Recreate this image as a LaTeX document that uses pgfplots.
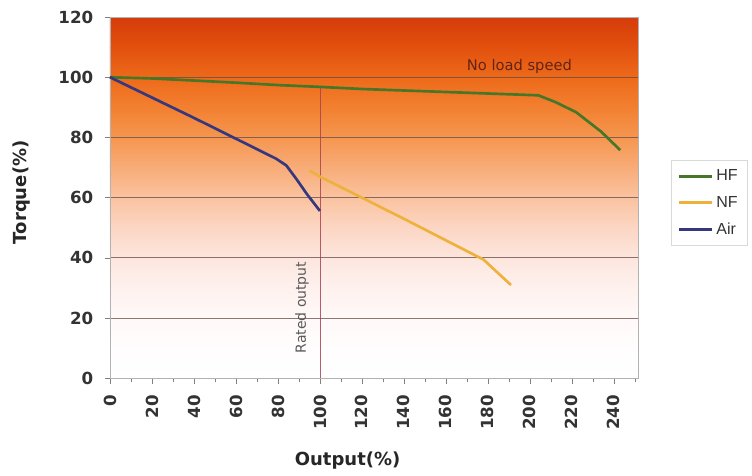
\documentclass[border=0pt]{standalone}
\usepackage{pgfplots}
\pgfplotsset{compat=1.18}
\usepackage{fontspec}
\setmainfont{Liberation Sans}
\newfontfamily\tickfont{DejaVu Sans}
\newfontfamily\annotfont{DejaVu Sans}
\definecolor{c120}{RGB}{213,60,10}
\definecolor{c110}{RGB}{226,80,14}
\definecolor{c100}{RGB}{237,106,26}
\definecolor{c90}{RGB}{242,128,48}
\definecolor{c80}{RGB}{245,150,80}
\definecolor{c70}{RGB}{248,172,120}
\definecolor{c60}{RGB}{250,195,160}
\definecolor{c50}{RGB}{252,214,196}
\definecolor{c40}{RGB}{253,230,222}
\definecolor{c30}{RGB}{254,241,238}
\definecolor{c20}{RGB}{255,249,248}
\definecolor{c10}{RGB}{255,253,253}
\definecolor{c0}{RGB}{255,255,255}
\definecolor{hfc}{RGB}{72,118,40}
\definecolor{nfc}{RGB}{238,178,60}
\definecolor{airc}{RGB}{55,55,125}
\definecolor{gridc}{RGB}{100,75,70}
\begin{document}
\begin{tikzpicture}
\begin{axis}[
  set layers,
  scale only axis,
  width=396pt, height=271pt,
  xmin=0, xmax=251.5, ymin=0, ymax=120,
  clip=false,
  axis line style={gray!60, line width=0.6pt},
  xtick={0,20,...,240},
  minor xtick={10,30,...,250},
  ytick={0,20,...,120},
  tick align=outside,
  tick style={gray, line width=0.5pt},
  major tick length=4pt, minor tick length=3pt,
  xtick pos=bottom, ytick pos=left,
  ymajorgrids, grid style={gridc, opacity=0.75, line width=0.7pt},
  /pgf/number format/assume math mode=true,
  ticklabel style={font=\tickfont\fontsize{12.5}{14}\selectfont\bfseries, text=black!80},
  xticklabel style={rotate=90, anchor=east, xshift=-5pt},
  yticklabel style={xshift=-5pt},
  xlabel={Output(\%)}, ylabel={Torque(\%)},
  label style={font=\tickfont\fontsize{13.5}{15}\selectfont\bfseries, text=black!85},
  xlabel style={at={(rel axis cs:0.45,-0.227)}, anchor=center},
  ylabel style={at={(rel axis cs:-0.1667,0.515)}, anchor=center},
  legend style={at={(1.062,0.485)}, anchor=west, draw=gray!30, font=\fontsize{12}{14}\selectfont, text=black!80, row sep=6pt, inner sep=5pt},
  legend image code/.code={\draw[#1] (0pt,0pt) -- (25pt,0pt);},
  legend cell align=left,
]
\begin{pgfonlayer}{axis background}
\fill[top color=c120, bottom color=c110] (axis cs:0,110) rectangle (axis cs:251.5,120);
\fill[top color=c110, bottom color=c100] (axis cs:0,100) rectangle (axis cs:251.5,110);
\fill[top color=c100, bottom color=c90] (axis cs:0,90) rectangle (axis cs:251.5,100);
\fill[top color=c90, bottom color=c80] (axis cs:0,80) rectangle (axis cs:251.5,90);
\fill[top color=c80, bottom color=c70] (axis cs:0,70) rectangle (axis cs:251.5,80);
\fill[top color=c70, bottom color=c60] (axis cs:0,60) rectangle (axis cs:251.5,70);
\fill[top color=c60, bottom color=c50] (axis cs:0,50) rectangle (axis cs:251.5,60);
\fill[top color=c50, bottom color=c40] (axis cs:0,40) rectangle (axis cs:251.5,50);
\fill[top color=c40, bottom color=c30] (axis cs:0,30) rectangle (axis cs:251.5,40);
\fill[top color=c30, bottom color=c20] (axis cs:0,20) rectangle (axis cs:251.5,30);
\fill[top color=c20, bottom color=c10] (axis cs:0,10) rectangle (axis cs:251.5,20);
\fill[top color=c10, bottom color=c0] (axis cs:0,0) rectangle (axis cs:251.5,10);
\end{pgfonlayer}
\path (rel axis cs:-0.2083,-0.2687) rectangle (rel axis cs:1.2159,1.0471);
% rated output line
\draw[line width=0.6pt, color={rgb,255:red,170;green,65;blue,85}, opacity=0.85] (axis cs:100,0) -- (axis cs:100,96.8);
\node[rotate=90, font=\annotfont\fontsize{10.5}{12}\selectfont, text=black!65] at (axis cs:91.5,23.5) {Rated output};
\node[font=\annotfont\fontsize{11}{13}\selectfont, text={rgb,255:red,100;green,35;blue,20}] at (axis cs:195,103.7) {No load speed};
\addplot[hfc, line width=2pt, line join=round] coordinates {
 (0,100) (20,99.6) (40,98.9) (60,98.2) (80,97.4) (100,96.8) (120,96.1) (140,95.6) (160,95.1) (180,94.6) (200,94.1) (204,94.0) (212,91.8) (222,88.4) (234,81.9) (243,75.8)
};
\addlegendentry{HF}
\addplot[nfc, line width=2pt, line join=round] coordinates {
 (95,69) (100,67) (140,53) (178,39.4) (184,35.5) (191,31)
};
\addlegendentry{NF}
\addplot[airc, line width=2pt, line join=round] coordinates {
 (0,100) (40,86.5) (79,73) (84,70.7) (89,66) (94,61) (100,55.6)
};
\addlegendentry{Air}
\end{axis}
\end{tikzpicture}
\end{document}
